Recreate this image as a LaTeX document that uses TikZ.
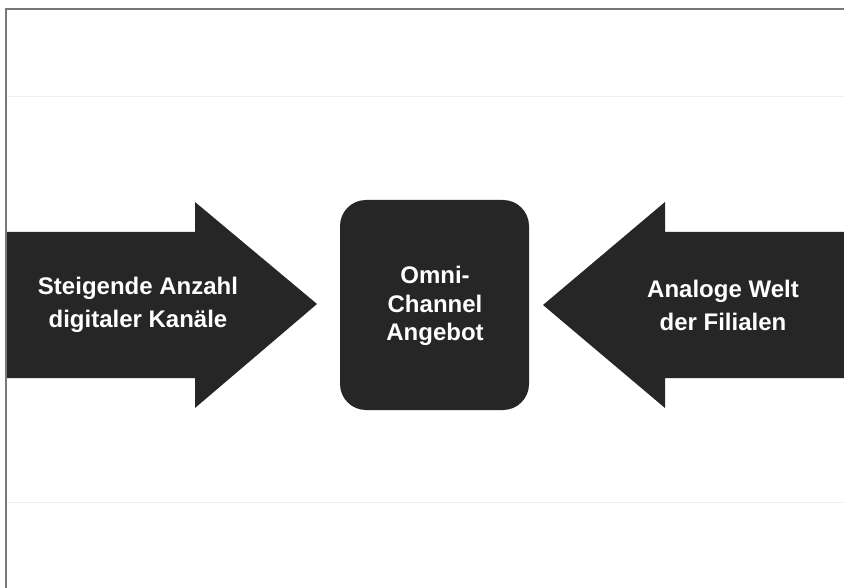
\documentclass[tikz,border=0pt]{standalone}
\usepackage{fontspec}
\setmainfont{Liberation Sans}
\begin{document}
\begin{tikzpicture}[x=1pt,y=-1pt,
  shapefill/.style={fill=boxgray,draw=none},
  label/.style={text=white,font=\bfseries\fontsize{24}{33}\selectfont,align=center,inner sep=0pt},
  clabel/.style={label,font=\bfseries\fontsize{24}{28.5}\selectfont},
  frame/.style={draw=framegray,line width=1.6pt},
  band/.style={draw=bandgray,line width=0.8pt}]
\definecolor{boxgray}{RGB}{38,38,38}
\definecolor{framegray}{RGB}{120,120,120}
\definecolor{bandgray}{RGB}{240,240,240}
\useasboundingbox (0,0) rectangle (844,588);
\fill[white] (0,0) rectangle (844,588);
% faint bands
\draw[band] (7,96) -- (844,96);
\draw[band] (7,502) -- (844,502);
% frame
\draw[frame] (6,588) -- (6,9) -- (844,9);
% left arrow
\path[shapefill] (7,232) -- (195,232) -- (195,202) -- (317,304) -- (195,408) -- (195,378) -- (7,378) -- cycle;
% right arrow
\path[shapefill] (844,232) -- (665,232) -- (665,202) -- (543,305) -- (665,408) -- (665,378) -- (844,378) -- cycle;
% center box
\path[shapefill,rounded corners=26pt] (340,200) rectangle (529,410);
\node[label] (left) at (138,305) {Steigende Anzahl\\digitaler Kanäle};
\node[clabel] (center) at (435,306) {Omni-\\Channel\\Angebot};
\node[label] (right) at (723,305) {Analoge Welt\\der Filialen};
\end{tikzpicture}
\end{document}
